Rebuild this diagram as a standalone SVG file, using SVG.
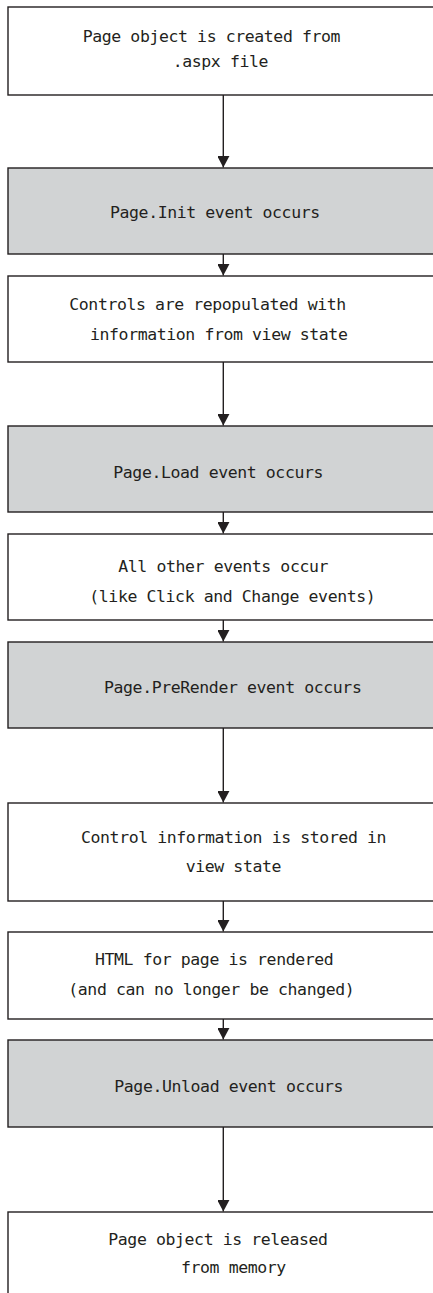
<svg xmlns="http://www.w3.org/2000/svg" width="433" height="1293" viewBox="0 0 433 1293">
<style>
.box{stroke:#231f20;stroke-width:1.4}
.w{fill:#ffffff}
.g{fill:#d1d3d4}
text{font-family:"DejaVu Sans Mono","Liberation Mono",monospace;font-size:16.5px;letter-spacing:-0.4px;fill:#231f20}
.conn line{stroke:#231f20;stroke-width:1.4}
</style>
<defs>
<marker id="ah" markerWidth="13" markerHeight="12" refX="12" refY="6.4" orient="auto" markerUnits="userSpaceOnUse">
<path d="M0,0 L12,6.4 L0,12.8 Z" fill="#231f20"/>
</marker>
</defs>
<rect width="433" height="1293" fill="#ffffff"/>
<g id="connectors" class="conn">
<line x1="223.3" y1="95" x2="223.3" y2="167.5" marker-end="url(#ah)"/>
<line x1="223.3" y1="254" x2="223.3" y2="275.5" marker-end="url(#ah)"/>
<line x1="223.3" y1="362" x2="223.3" y2="425.5" marker-end="url(#ah)"/>
<line x1="223.3" y1="512" x2="223.3" y2="533.5" marker-end="url(#ah)"/>
<line x1="223.3" y1="620" x2="223.3" y2="641.5" marker-end="url(#ah)"/>
<line x1="223.3" y1="728" x2="223.3" y2="802.5" marker-end="url(#ah)"/>
<line x1="223.3" y1="901" x2="223.3" y2="931.5" marker-end="url(#ah)"/>
<line x1="223.3" y1="1019" x2="223.3" y2="1039.5" marker-end="url(#ah)"/>
<line x1="223.3" y1="1127" x2="223.3" y2="1211.5" marker-end="url(#ah)"/>
</g>
<g id="n1"><rect class="box w" x="8" y="7" width="440" height="88"/>
<text x="82.7" y="42">Page object is created from</text>
<text x="172.7" y="67">.aspx file</text></g>
<g id="n2"><rect class="box g" x="8" y="168" width="440" height="86"/>
<text x="110" y="218">Page.Init event occurs</text></g>
<g id="n3"><rect class="box w" x="8" y="276" width="440" height="86"/>
<text x="69.3" y="310">Controls are repopulated with</text>
<text x="90" y="340">information from view state</text></g>
<g id="n4"><rect class="box g" x="8" y="426" width="440" height="86"/>
<text x="113.3" y="478">Page.Load event occurs</text></g>
<g id="n5"><rect class="box w" x="8" y="534" width="440" height="86"/>
<text x="118.3" y="571.5">All other events occur</text>
<text x="89.3" y="601.5">(like Click and Change events)</text></g>
<g id="n6"><rect class="box g" x="8" y="642" width="440" height="86"/>
<text x="104" y="693">Page.PreRender event occurs</text></g>
<g id="n7"><rect class="box w" x="8" y="803" width="440" height="98"/>
<text x="81" y="843">Control information is stored in</text>
<text x="185.7" y="871.5">view state</text></g>
<g id="n8"><rect class="box w" x="8" y="932" width="440" height="87"/>
<text x="95" y="965">HTML for page is rendered</text>
<text x="68.3" y="995">(and can no longer be changed)</text></g>
<g id="n9"><rect class="box g" x="8" y="1040" width="440" height="87"/>
<text x="114.3" y="1091.5">Page.Unload event occurs</text></g>
<g id="n10"><rect class="box w" x="8" y="1212" width="440" height="100"/>
<text x="108.3" y="1245">Page object is released</text>
<text x="181" y="1273">from memory</text></g>
</svg>
